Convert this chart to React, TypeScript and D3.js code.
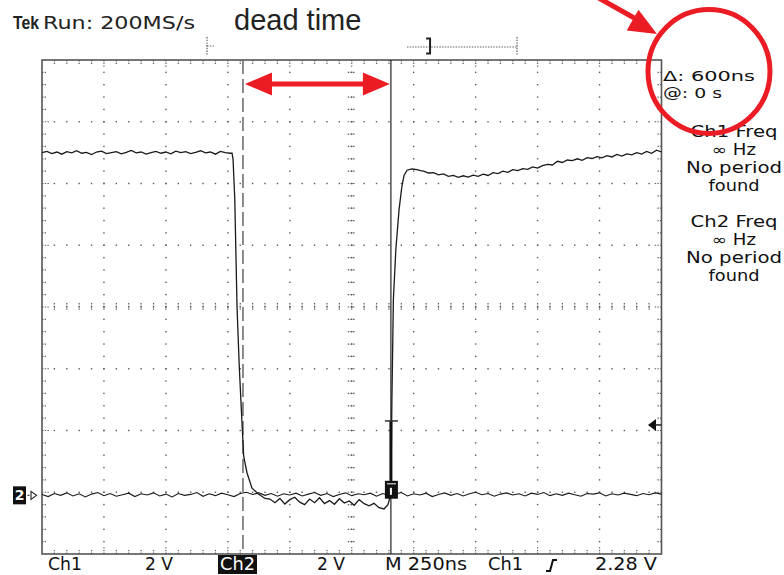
import React from 'react';
import * as d3 from 'd3';

// ---- acquisition settings ----
const TIME_DIV_NS = 250;
const VOLT_DIV = 2;
const H_DIVS = 10;
const V_DIVS = 8;
const MINOR_PER_DIV = 5;
const GROUND_SCREEN_V = -6.1; // screen position of both channel grounds (V at 2 V/div)
const TRIGGER_LEVEL = 2.28;
const CURSOR_A_NS = 811;
const CURSOR_B_NS = 1408;

// top record-position markers (ns)
const TOP_MARK_NS = 666;
const WINDOW_START_NS = 1473;
const BRACKET_NS = 1566;
const WINDOW_END_NS = 1917;

// ---- Ch1 trace (volts) ----
const SAMPLE_NS = 20;
const CH1_HIGH_START = 0;
const CH1_HIGH = [
  11.10, 11.14, 11.07, 11.12, 11.05, 11.13, 11.09, 11.16, 11.08, 11.11,
  11.04, 11.12, 11.15, 11.07, 11.10, 11.13, 11.06, 11.11, 11.17, 11.09,
  11.12, 11.05, 11.10, 11.14, 11.08, 11.12, 11.06, 11.15, 11.10, 11.13,
  11.07, 11.11, 11.16, 11.09, 11.12, 11.05, 11.14, 11.10, 11.08,
];
const CH1_FALL: [number, number][] = [
  [767, 11.08], [771, 10.88], [778, 9.59], [787, 6.12], [796, 4.18], [807, 2.36],
  [814, 1.26], [827, 0.74], [847, 0.24], [872, 0.05], [900, -0.10],
];
const CH1_LOW_START = 920;
const CH1_LOW = [
  -0.12, -0.24, -0.10, -0.28, -0.14, -0.06, -0.22, -0.30, -0.12, -0.24,
  -0.08, -0.27, -0.17, -0.29, -0.11, -0.25, -0.18, -0.32, -0.14, -0.27,
  -0.34, -0.26, -0.40, -0.44,
];
const CH1_RISE: [number, number][] = [
  [1396, -0.30], [1404, -0.08], [1408, 0.0], [1412, 3.1], [1418, 6.35], [1428, 7.97],
  [1441, 9.26], [1452, 9.98], [1461, 10.36], [1473, 10.53], [1493, 10.57], [1513, 10.55],
  [1527, 10.52],
];
const CH1_RECOVERY_START = 1540;
const CH1_RECOVERY = [
  10.50, 10.44, 10.45, 10.38, 10.41, 10.33, 10.36, 10.30, 10.35, 10.31,
  10.37, 10.33, 10.40, 10.36, 10.45, 10.42, 10.50, 10.46, 10.55, 10.52,
  10.58, 10.56, 10.64, 10.60, 10.68, 10.72, 10.70, 10.82, 10.78, 10.86,
  10.84, 10.90, 10.85, 10.94, 10.91, 10.97, 10.93, 11.00, 10.96, 11.04,
  10.99, 11.06, 11.03, 11.10, 11.05, 11.14, 11.08, 11.18, 11.12,
];

// ---- Ch2 trace (volts) ----
const CH2_START = 0;
const CH2_SAMPLE_NS = 25;
const CH2 = [
  0.03, -0.04, 0.06, 0.00, 0.08, -0.02, 0.05, -0.05, 0.04, 0.09,
  -0.01, 0.06, -0.03, 0.02, 0.07, -0.04, 0.05, 0.01, 0.08, -0.02,
  0.04, -0.05, 0.06, 0.00, 0.03, 0.09, -0.03, 0.05, -0.01, 0.07,
  0.02, -0.04, 0.06, 0.10, 0.03, 0.08, 0.00, 0.06, -0.03, 0.05,
  0.01, 0.07, -0.02, 0.04, 0.09, 0.00, 0.06, -0.04, 0.03, 0.08,
  -0.01, 0.05, 0.02, 0.07, -0.03, 0.06, 0.00, 0.04, 0.09, -0.02,
  0.05, 0.01, 0.07, -0.04, 0.03, 0.08, 0.00, 0.06, -0.02, 0.05,
  0.10, 0.02, 0.06, -0.03, 0.04, 0.08, 0.01, 0.05, -0.02, 0.07,
  0.03, 0.09, -0.01, 0.05, 0.00, 0.07, 0.02, -0.03, 0.06, 0.04,
  0.08, -0.02, 0.05, 0.01, 0.07, 0.03, -0.01, 0.06, 0.02, 0.08, 0.04,
];

// marker on cursor B (volts relative to ground)
const MARK_CAP_V = 2.41;
const MARK_BOX_TOP_V = 0.47;
const MARK_BOX_BOT_V = -0.11;

// ---- text ----
const HEADER_BOLD = 'Tek';
const HEADER_TEXT = 'Run: 200MS/s';
const TITLE = 'dead time';
const CURSOR_READOUT = ['\u0394: 600ns', '@: 0 s'];
const CURSOR_READOUT_W = [92, 59];
const FREQ_BLOCKS = [
  ['Ch1 Freq', '\u221E Hz', 'No period', 'found'],
  ['Ch2 Freq', '\u221E Hz', 'No period', 'found'],
];
const FREQ_WIDTHS = [87, 44, 96, 51];
const BOTTOM_LABELS = ['Ch1', '2 V', 'Ch2', '2 V', 'M 250ns', 'Ch1', '2.28 V'];

const W = 784;
const H = 575;
const FONT = '"DejaVu Sans", sans-serif';
const RED = '#EC1C24';
const GRID = '#5a5a5a';

function series(start: number, step: number, vals: number[]): [number, number][] {
  return vals.map((v, i) => [start + i * step, v]);
}

export default function App() {
  const left = 42, right = 661.5, top = 60, bottom = 554;
  const tMax = TIME_DIV_NS * H_DIVS;
  const vHalf = (VOLT_DIV * V_DIVS) / 2;
  const x = d3.scaleLinear().domain([0, tMax]).range([left, right]);
  const y = d3.scaleLinear().domain([-vHalf, vHalf]).range([bottom, top]);
  const ch = (v: number) => y(v + GROUND_SCREEN_V);

  const line = d3.line<[number, number]>().x(d => x(d[0])).y(d => ch(d[1]));

  const ch1: [number, number][] = [
    ...series(CH1_HIGH_START, SAMPLE_NS, CH1_HIGH),
    ...CH1_FALL,
    ...series(CH1_LOW_START, SAMPLE_NS, CH1_LOW),
    ...CH1_RISE,
    ...series(CH1_RECOVERY_START, SAMPLE_NS, CH1_RECOVERY),
  ];
  const ch2 = series(CH2_START, CH2_SAMPLE_NS, CH2);

  const majorT = d3.range(0, tMax + 1, TIME_DIV_NS);
  const minorT = d3.range(0, tMax + 1, TIME_DIV_NS / MINOR_PER_DIV);
  const majorV = d3.range(-vHalf, vHalf + 0.001, VOLT_DIV);
  const minorV = d3.range(-vHalf, vHalf + 0.001, VOLT_DIV / MINOR_PER_DIV);

  const dots: JSX.Element[] = [];
  majorT.slice(1, -1).forEach((t, i) => {
    minorV.slice(1, -1).forEach((v, j) => {
      dots.push(<rect key={`vd${i}-${j}`} x={x(t) - 0.7} y={y(v) - 0.7} width={1.4} height={1.4} fill={GRID} />);
    });
  });
  majorV.slice(1, -1).forEach((v, i) => {
    minorT.slice(1, -1).forEach((t, j) => {
      dots.push(<rect key={`hd${i}-${j}`} x={x(t) - 0.7} y={y(v) - 0.7} width={1.4} height={1.4} fill={GRID} />);
    });
  });
  const cx = x(tMax / 2);
  const cy = y(0);
  minorV.slice(1, -1).forEach((v, j) => {
    dots.push(<line key={`cvt${j}`} x1={cx - 4} x2={cx + 4} y1={y(v)} y2={y(v)} stroke={GRID} strokeWidth={1.2} strokeDasharray="1.4,1.3" />);
  });
  minorT.slice(1, -1).forEach((t, j) => {
    dots.push(<line key={`cht${j}`} x1={x(t)} x2={x(t)} y1={cy - 4} y2={cy + 4} stroke={GRID} strokeWidth={1.2} strokeDasharray="1.4,1.3" />);
  });
  minorT.slice(1, -1).forEach((t, j) => {
    const big = j % MINOR_PER_DIV === MINOR_PER_DIV - 1;
    const len = big ? 7 : 4;
    dots.push(<line key={`tt${j}`} x1={x(t)} x2={x(t)} y1={top} y2={top + len} stroke={GRID} strokeWidth={1.2} strokeDasharray="1.4,1.3" />);
    dots.push(<line key={`bt${j}`} x1={x(t)} x2={x(t)} y1={bottom} y2={bottom - len} stroke={GRID} strokeWidth={1.2} strokeDasharray="1.4,1.3" />);
  });
  minorV.slice(1, -1).forEach((v, j) => {
    const big = j % MINOR_PER_DIV === MINOR_PER_DIV - 1;
    const len = big ? 7 : 4;
    dots.push(<line key={`lt${j}`} x1={left} x2={left + len} y1={y(v)} y2={y(v)} stroke={GRID} strokeWidth={1.2} strokeDasharray="1.4,1.3" />);
    dots.push(<line key={`rt${j}`} x1={right} x2={right - len} y1={y(v)} y2={y(v)} stroke={GRID} strokeWidth={1.2} strokeDasharray="1.4,1.3" />);
  });

  const xa = x(CURSOR_A_NS);
  const xb = x(CURSOR_B_NS);
  const g0 = ch(0);
  const trigY = ch(TRIGGER_LEVEL);

  const arrY = 84, headL = 27, headH = 11.5, shaft = 2.6;
  const ax1 = xa + 2, ax2 = xb - 1;
  const dblArrow = `M${ax1},${arrY} L${ax1 + headL},${arrY - headH} L${ax1 + headL},${arrY - shaft} L${ax2 - headL},${arrY - shaft} L${ax2 - headL},${arrY - headH} L${ax2},${arrY} L${ax2 - headL},${arrY + headH} L${ax2 - headL},${arrY + shaft} L${ax1 + headL},${arrY + shaft} L${ax1 + headL},${arrY + headH} Z`;

  const bottomY = 570;
  const labelPos = [
    { x: 48, len: 34 }, { x: 145, len: 28 }, { x: 220, len: 35 }, { x: 317, len: 28 },
    { x: 385, len: 82 }, { x: 488, len: 35 }, { x: 595, len: 62 },
  ];

  return (
    <svg width={W} height={H} viewBox={`0 0 ${W} ${H}`} style={{ position: 'absolute', left: 0, top: 0, background: '#fff' }}>
      <rect x={0} y={0} width={W} height={H} fill="#fff" />
      {/* header */}
      <text x={13} y={29} fontFamily='"Liberation Sans", Arial, sans-serif' fontSize={18} fontWeight="bold" fill="#222" textLength={26} lengthAdjust="spacingAndGlyphs">{HEADER_BOLD}</text>
      <text x={43} y={29} fontFamily={FONT} fontSize={18} fill="#222" textLength={152} lengthAdjust="spacingAndGlyphs">{HEADER_TEXT}</text>
      <text x={234} y={30} fontFamily='"Liberation Sans", Arial, sans-serif' fontSize={29} fill="#222">{TITLE}</text>

      {/* top record markers */}
      <line x1={x(TOP_MARK_NS)} x2={x(TOP_MARK_NS)} y1={37} y2={55} stroke={GRID} strokeWidth={1.2} strokeDasharray="1.4,1.3" />
      <line x1={x(TOP_MARK_NS)} x2={x(TOP_MARK_NS) + 7} y1={46} y2={46} stroke={GRID} strokeWidth={1.2} strokeDasharray="1.4,1.3" />
      <line x1={x(WINDOW_START_NS)} x2={x(WINDOW_END_NS)} y1={47} y2={47} stroke={GRID} strokeWidth={1.2} strokeDasharray="1.4,1.3" />
      <line x1={x(WINDOW_END_NS)} x2={x(WINDOW_END_NS)} y1={37} y2={55} stroke={GRID} strokeWidth={1.2} strokeDasharray="1.4,1.3" />
      <path d={`M${x(BRACKET_NS) - 4},38.5 H${x(BRACKET_NS)} V53.5 H${x(BRACKET_NS) - 4}`} fill="none" stroke="#222" strokeWidth={2} />

      {/* graticule */}
      {dots}
      <rect x={left} y={top} width={right - left} height={bottom - top} fill="none" stroke="#555" strokeWidth={1.6} />

      {/* cursors */}
      <line x1={xa} x2={xa} y1={top} y2={bottom} stroke="#666" strokeWidth={1.5} strokeDasharray="14,5" />
      <line x1={xb} x2={xb} y1={top} y2={bottom} stroke="#222" strokeWidth={1.2} />

      {/* traces */}
      <path d={line(ch2) || ''} fill="none" stroke="#1a1a1a" strokeWidth={1.1} />
      <path d={line(ch1) || ''} fill="none" stroke="#1a1a1a" strokeWidth={1.3} />

      {/* marker on cursor B */}
      <line x1={xb} x2={xb} y1={ch(MARK_CAP_V)} y2={ch(MARK_BOX_TOP_V)} stroke="#111" strokeWidth={3} />
      <line x1={xb - 6} x2={xb + 7} y1={ch(MARK_CAP_V)} y2={ch(MARK_CAP_V)} stroke="#333" strokeWidth={1.5} />
      <rect x={xb - 6} y={ch(MARK_BOX_TOP_V)} width={13} height={ch(MARK_BOX_BOT_V) - ch(MARK_BOX_TOP_V)} fill="#111" />
      <line x1={xb - 4} x2={xb + 5} y1={ch(MARK_BOX_TOP_V) + 3} y2={ch(MARK_BOX_TOP_V) + 3} stroke="#fff" strokeWidth={1} />
      <rect x={xb - 1} y={ch(MARK_BOX_TOP_V) + 7} width={2} height={7} fill="#fff" />

      {/* ground marker */}
      <rect x={13} y={g0 - 9} width={13} height={18} fill="#111" />
      <text x={19.5} y={g0 + 5} textAnchor="middle" fontFamily={FONT} fontSize={14} fontWeight="bold" fill="#fff">2</text>
      <line x1={27.5} x2={29.5} y1={g0} y2={g0} stroke="#333" strokeWidth={1.2} />
      <path d={`M31,${g0 - 4} L36.5,${g0} L31,${g0 + 4} Z`} fill="#fff" stroke="#222" strokeWidth={1.1} />

      {/* trigger level arrow */}
      <path d={`M648,${trigY} L656,${trigY - 6} L656,${trigY + 6} Z`} fill="#111" />
      <line x1={655} x2={right} y1={trigY} y2={trigY} stroke="#222" strokeWidth={1.5} />

      {/* right readouts */}
      {CURSOR_READOUT.map((s, i) => (
        <text key={`c${i}`} x={663} y={81 + i * 17} fontFamily={FONT} fontSize={14.5} fill="#111" textLength={CURSOR_READOUT_W[i]} lengthAdjust="spacingAndGlyphs">{s}</text>
      ))}
      {FREQ_BLOCKS.map((blk, bi) =>
        blk.map((s, li) => (
          <text key={`f${bi}-${li}`} x={734 - FREQ_WIDTHS[li] / 2} y={137 + bi * 90 + li * 18} fontFamily={FONT} fontSize={15} fill="#111" textLength={FREQ_WIDTHS[li]} lengthAdjust="spacingAndGlyphs">{s}</text>
        ))
      )}

      {/* bottom labels */}
      <rect x={218} y={555} width={39} height={19} fill="#111" />
      {BOTTOM_LABELS.map((s, i) => (
        <text key={`b${i}`} x={labelPos[i].x} y={bottomY} fontFamily={FONT} fontSize={18} fill={i === 2 ? '#fff' : '#111'} textLength={labelPos[i].len} lengthAdjust="spacingAndGlyphs">{s}</text>
      ))}
      <path d="M546,571 H550 L553,560 H557" fill="none" stroke="#111" strokeWidth={2} />

      {/* red annotations */}
      <path d={dblArrow} fill={RED} />
      <ellipse cx={709} cy={71.5} rx={61} ry={62} fill="none" stroke={RED} strokeWidth={5} />
      <line x1={597} y1={-3} x2={636} y2={19} stroke={RED} strokeWidth={5} />
      <path d="M657,34 L626.7,30.6 L638.5,9.8 Z" fill={RED} />
    </svg>
  );
}
